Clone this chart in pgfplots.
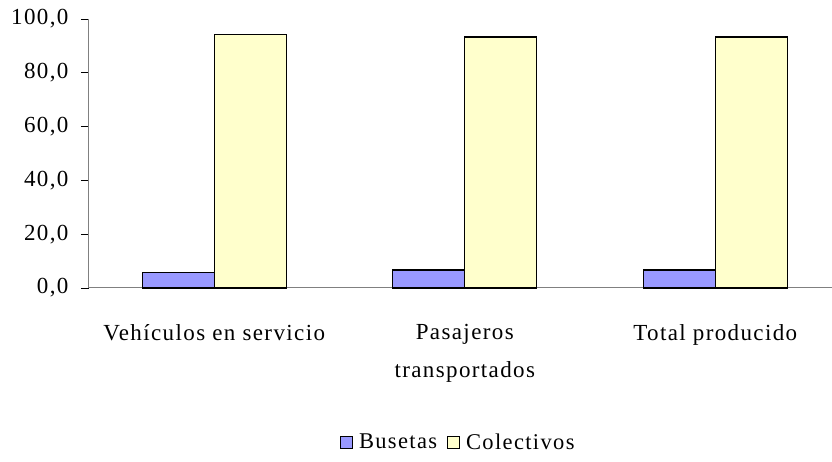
\documentclass[border=0pt]{standalone}
\usepackage{fontspec}
\setmainfont{Liberation Serif}[LetterSpace=6]
\usepackage{pgfplots}
\pgfplotsset{compat=1.18}
\definecolor{buseta}{HTML}{9999FF}
\definecolor{colect}{HTML}{FFFFCC}
\definecolor{axgray}{HTML}{808080}
\begin{document}
\begin{tikzpicture}
\useasboundingbox (-89pt,-174pt) rectangle (743pt,288pt);
\begin{axis}[
  at={(0pt,0pt)}, anchor=south west,
  scale only axis, width=743pt, height=269pt,
  xmin=0, xmax=2.966, ymin=0, ymax=100,
  axis x line*=bottom, axis y line*=left,
  axis line style={axgray, line width=1pt},
  ytick={0,20,...,100},
  yticklabel style={xshift=-9pt, /pgf/number format/fixed, /pgf/number format/fixed zerofill,
    /pgf/number format/precision=1, /pgf/number format/use comma, /pgf/number format/assume math mode=true},
  tick style={black, line width=0.8pt},
  major tick length=8pt, tick align=outside,
  xtick={0.5,1.5,2.5},
  xticklabels={Vehículos en servicio, Pasajeros\\[12pt]transportados, Total producido},
  x tick style={draw=none},
  xticklabel style={align=center, yshift=-25pt},
  extra x ticks={0,1,2},
  extra x tick labels={},
  extra x tick style={x tick style={axgray, line width=1pt}, major tick length=9pt},
  ybar=0pt, bar width=72pt,
  font=\fontsize{23}{26}\selectfont,
  ticklabel style={font=\fontsize{23}{26}\selectfont},
  legend style={at={(0.497,-0.573)}, anchor=center, draw=none, legend columns=2,
    font=\fontsize{22.5}{25}\selectfont,
    /tikz/every odd column/.append style={column sep=4pt},
    /tikz/every even column/.append style={column sep=8pt}},
  legend image code/.code={\draw[#1, line width=1pt] (0pt,-6pt) rectangle (12pt,6pt);},
  clip=false,
]
\addplot[fill=buseta, draw=black, line width=1.2pt] coordinates {(0.5,5.9) (1.5,6.7) (2.5,6.7)};
\addplot[fill=colect, draw=black, line width=1.2pt] coordinates {(0.5,94.1) (1.5,93.3) (2.5,93.3)};
\legend{Busetas, Colectivos}
\end{axis}
\end{tikzpicture}
\end{document}
